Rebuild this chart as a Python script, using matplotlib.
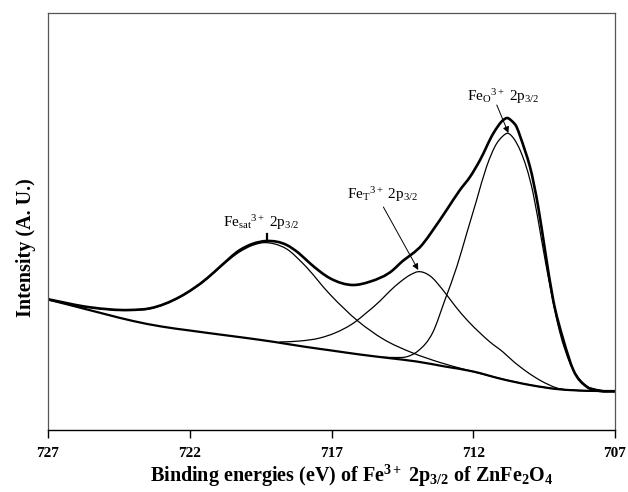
# XPS Fe 2p3/2 fit of ZnFe2O4
import numpy as np
import matplotlib
matplotlib.use('Agg')
import matplotlib.pyplot as plt
from matplotlib.path import Path
from matplotlib.patches import PathPatch

plt.rcParams['font.family'] = ['Liberation Serif', 'DejaVu Serif']
plt.rcParams['mathtext.fontset'] = 'custom'
plt.rcParams['mathtext.rm'] = 'Liberation Serif'
plt.rcParams['mathtext.it'] = 'Liberation Serif:italic'
plt.rcParams['mathtext.bf'] = 'Liberation Serif:bold'

# binding energy (eV) / intensity (a.u.)
base_e = [727, 726, 725, 724, 723, 722, 721, 720, 719, 718, 717, 716, 715, 714, 713, 712, 711, 710, 709, 708, 707]
base_i = [130.5, 123.3, 116, 109, 103.5, 99.5, 95.7, 92, 88, 83.5, 79.5, 75.5, 72, 68.5, 63.5, 58.5, 51, 45, 40.8, 39.2, 39]

env_e = [727.00, 725.52, 724.11, 723.40, 722.34, 721.39, 720.93, 720.23, 719.80, 719.29, 718.58, 718.16,
         717.76, 717.05, 716.23, 715.65, 714.83, 714.58, 713.78, 713.42, 712.94, 712.47, 712.11, 711.76,
         711.29, 710.94, 710.81, 710.64, 710.47, 710.35, 710.17, 710.00, 709.71, 709.47, 709.18, 708.82,
         708.47, 708.00, 707.53, 707.00]
env_i = [130.7, 122.7, 120.0, 121.7, 133.3, 151.7, 163.3, 180.0, 186.0, 189.0, 185.0, 177.0,
         166.7, 151.7, 145.0, 148.3, 160.0, 166.7, 186.0, 200.0, 220.0, 240.0, 253.3, 270.0,
         296.7, 310.0, 312.0, 309.0, 303.0, 294.0, 279.0, 263.3, 223.3, 180.0, 130.0, 90.0,
         60.0, 43.3, 39.0, 38.5]

sat_e = [727.00, 725.52, 724.11, 723.40, 722.34, 721.39, 720.93, 720.23, 719.80, 719.41, 719.00, 718.58,
         717.99, 717.05, 716.07, 715.18, 714.13, 713.17, 712.36, 711.41, 710.35, 709.40, 708.23, 707.00]
sat_i = [130.7, 122.5, 119.7, 121.3, 133.0, 151.2, 162.8, 178.3, 184.5, 187.3, 186.0, 181.0,
         166.0, 135.5, 109.0, 91.0, 77.0, 67.5, 61.0, 54.0, 47.0, 42.2, 39.5, 39.0]

fet_e = [718.82, 718.11, 717.41, 716.88, 716.17, 715.82, 715.29, 714.94, 714.58, 714.23, 713.94, 713.52,
         713.07, 712.64, 712.22, 711.76, 711.41, 710.95, 710.60, 710.10, 709.63, 709.05, 708.13, 707.00]
fet_i = [88, 89, 92, 97, 108, 116, 129, 139, 148, 155, 158.3, 154,
         140, 124, 110, 97, 88, 78, 69, 58, 49.5, 42, 39.3, 39]

feo_e = [715.29, 714.76, 714.34, 713.95, 713.42, 713.00, 712.58, 712.23, 711.88, 711.53, 711.17, 710.99,
         710.78, 710.56, 710.35, 709.89, 709.59, 709.29, 708.94, 708.59, 708.13, 707.53, 707.00]
feo_i = [73, 72.5, 73.3, 79, 98, 130, 163.3, 196.7, 230, 263.3, 286.7, 293,
         296.7, 291, 280, 237, 190, 143.3, 97, 67, 47, 40, 39]


def smooth_curve(ax, xs, ys, lw):
    # cubic bezier through the read points (hermite, finite-difference slopes)
    x = np.asarray(xs, float)
    y = np.asarray(ys, float)
    m = np.gradient(y, x)
    verts = [(x[0], y[0])]
    codes = [Path.MOVETO]
    for k in range(len(x) - 1):
        h = x[k + 1] - x[k]
        verts += [(x[k] + h / 3, y[k] + m[k] * h / 3),
                  (x[k + 1] - h / 3, y[k + 1] - m[k + 1] * h / 3),
                  (x[k + 1], y[k + 1])]
        codes += [Path.CURVE4] * 3
    ax.add_patch(PathPatch(Path(verts, codes), fill=False, edgecolor='black', lw=lw,
                           capstyle='round', joinstyle='round'))


fig = plt.figure(figsize=(6.28, 4.92), dpi=100)
ax = fig.add_axes([48 / 628, 62 / 492, 567 / 628, 417 / 492])

smooth_curve(ax, sat_e, sat_i, 0.9)
smooth_curve(ax, fet_e, fet_i, 0.9)
smooth_curve(ax, feo_e, feo_i, 0.9)
smooth_curve(ax, base_e, base_i, 1.6)
smooth_curve(ax, env_e, env_i, 1.9)

ax.set_xlim(727, 707)
ax.set_ylim(0, 417)
ax.set_xticks([727, 722, 717, 712, 707])
ax.set_yticks([])
ax.tick_params(axis='x', direction='out', length=6, width=1, pad=6, labelsize=11)
for lab in ax.get_xticklabels():
    lab.set_fontweight('bold')
for s in ['left', 'top', 'right']:
    ax.spines[s].set_color('#555555')
    ax.spines[s].set_linewidth(0.9)
ax.spines['bottom'].set_linewidth(1.0)

ax.set_xlabel(r'Binding energies (eV) of Fe$^{\mathbf{3+}}$ 2p$_{\mathbf{3/2}}$ of ZnFe$_{\mathbf{2}}$O$_{\mathbf{4}}$',
              fontsize=14.5, fontweight='bold', labelpad=2)
ax.xaxis.label.set_x(0.536)
ax.set_ylabel('Intensity (A. U.)', fontsize=14.5, fontweight='bold', labelpad=9)
ax.yaxis.label.set_y(0.437)

# peak labels
ax.text(719.47, 203, r'Fe$_{\rm sat}$$^{3+}$ 2p$_{3/2}$', ha='center', va='baseline', fontsize=11)
ax.plot([719.29, 719.29], [196, 189], color='black', lw=1.6)
ax.text(715.20, 231, r'Fe$_{\rm T}$$^{3+}$ 2p$_{3/2}$', ha='center', va='baseline', fontsize=11)
ax.annotate('', xy=(713.94, 160), xytext=(715.17, 223),
            arrowprops=dict(arrowstyle='-|>', color='black', lw=0.7, mutation_scale=9, shrinkA=0, shrinkB=0))
ax.text(710.95, 329, r'Fe$_{\rm O}$$^{3+}$ 2p$_{3/2}$', ha='center', va='baseline', fontsize=11)
ax.annotate('', xy=(710.76, 297), xytext=(711.17, 325),
            arrowprops=dict(arrowstyle='-|>', color='black', lw=0.7, mutation_scale=9, shrinkA=0, shrinkB=0))

fig.savefig('out.png', dpi=100)
